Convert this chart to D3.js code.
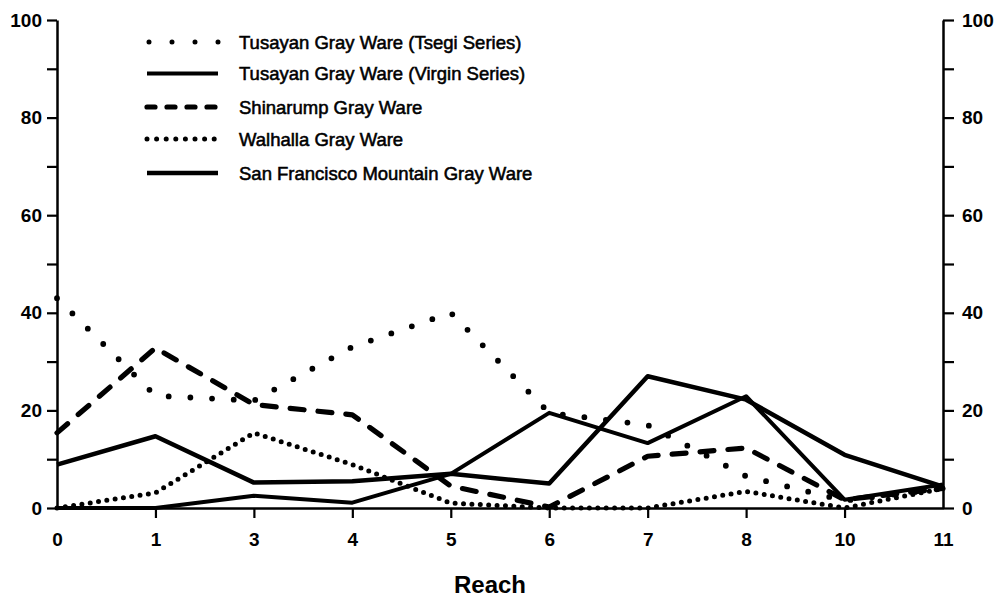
<!DOCTYPE html>
<html><head><meta charset="utf-8">
<script src="https://cdn.jsdelivr.net/npm/d3@7"></script>
<style>
body{margin:0;background:#fff;}
svg{display:block;}
</style></head>
<body>
<svg id="c" width="1006" height="600"></svg>
<script>
const reaches = ["0","1","3","4","5","6","7","8","10","11"];
const tsegi     = [43, 23, 22, 33, 40, 19.5, 17, 6.5, 1.5, 4];
const virgin    = [0, 0, 2.5, 1.1, 7, 19.5, 13.3, 22.9, 1.7, 4.8];
const shinarump = [15.4, 32.8, 21.2, 19.1, 4.5, 0.2, 10.6, 12.3, 1.7, 4];
const walhalla  = [0, 3.1, 15.4, 8.9, 1, 0, 0, 3.4, 0, 4];
const sanfran   = [8.9, 14.7, 5.2, 5.5, 7, 5.0, 27, 22.2, 10.9, 4.4];
const seriesNames = ["Tusayan Gray Ware (Tsegi Series)","Tusayan Gray Ware (Virgin Series)","Shinarump Gray Ware","Walhalla Gray Ware","San Francisco Mountain Gray Ware"];
const yTicks = [0,10,20,30,40,50,60,70,80,90,100];
const xTitle = "Reach";

const styles = [
  {w:5.8, dash:"0 21.7", cap:"round"},
  {w:4, dash:null, cap:"butt"},
  {w:5.2, dash:"14 14", cap:"round"},
  {w:5, dash:"0 8.4", cap:"round"},
  {w:4.5, dash:null, cap:"butt"}
];
const allSeries = [tsegi, virgin, shinarump, walhalla, sanfran];

const svg = d3.select("#c");
const x = d3.scalePoint().domain(reaches).range([57, 943]);
const y = d3.scaleLinear().domain([0,100]).range([508, 20]);

const font = "'Liberation Sans', Arial, sans-serif";
const fmt = d => d % 20 === 0 ? d : "";

function styleAxis(g){
  g.select(".domain").attr("stroke","#000").attr("stroke-width",2.5);
  g.selectAll(".tick line").attr("stroke","#000").attr("stroke-width",2.2);
  g.selectAll(".tick text").attr("fill","#000").attr("font-family",font)
    .attr("font-size",19).attr("font-weight","bold");
}

const gl = svg.append("g").attr("transform","translate(57,0)")
  .call(d3.axisLeft(y).tickValues(yTicks).tickFormat(fmt).tickSize(10).tickSizeOuter(0).tickPadding(5));
styleAxis(gl);
const gr = svg.append("g").attr("transform","translate(943,0)")
  .call(d3.axisRight(y).tickValues(yTicks).tickFormat(fmt).tickSize(11).tickSizeOuter(0).tickPadding(8));
styleAxis(gr);
const gb = svg.append("g").attr("transform","translate(0,508)")
  .call(d3.axisBottom(x).tickSize(10).tickSizeOuter(0).tickPadding(15));
styleAxis(gb);
gb.selectAll(".tick line").filter(d => d === reaches[0] || d === reaches[reaches.length-1]).remove();

svg.append("text").attr("x",490).attr("y",593).attr("text-anchor","middle")
  .attr("font-family",font).attr("font-size",24).attr("font-weight","bold").text(xTitle);

const line = d3.line().x((d,i)=>x(reaches[i])).y(d=>y(d));
allSeries.forEach((s,k)=>{
  const st = styles[k];
  svg.append("path").datum(s).attr("d",line).attr("fill","none")
    .attr("stroke","#000").attr("stroke-width",st.w)
    .attr("stroke-linecap",st.cap).attr("stroke-linejoin","round")
    .attr("stroke-dasharray",st.dash);
});

// legend
const ly = [42, 73.5, 107, 139, 173];
const legendDash = ["0 23", null, "8 12", "0 9.6", null];
seriesNames.forEach((n,k)=>{
  const st = styles[k];
  const lx0 = k===0 ? 149 : 147, lx1 = k===0 ? 219 : 218;
  svg.append("line").attr("x1",lx0).attr("x2",lx1).attr("y1",ly[k]).attr("y2",ly[k])
    .attr("stroke","#000").attr("stroke-width",k===0?5:st.w)
    .attr("stroke-linecap",st.cap)
    .attr("stroke-dasharray", legendDash[k]);
  svg.append("text").attr("x",239).attr("y",ly[k]+6.5)
    .attr("font-family",font).attr("font-size",18.5)
    .attr("stroke","#000").attr("stroke-width",0.55)
    .text(n);
});
</script>
</body></html>
